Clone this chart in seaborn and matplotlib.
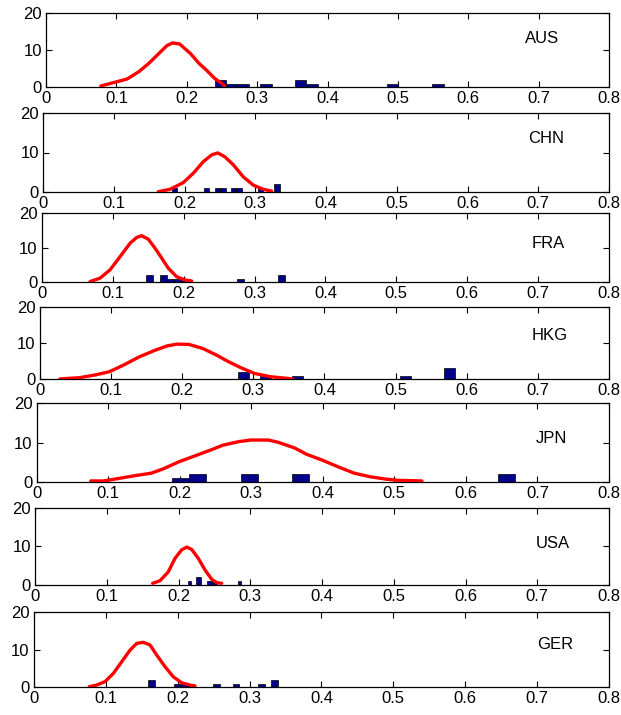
import numpy as np
import pandas as pd
import matplotlib
matplotlib.use("Agg")
import matplotlib.pyplot as plt
import seaborn as sns

# ---------------- data ----------------
countries = ["AUS", "CHN", "FRA", "HKG", "JPN", "USA", "GER"]

# histogram: first bin edge, bin width, counts in 20 bins
aus_bin_start, aus_bin_width = 0.2395, 0.0163
aus_counts = [2, 1, 1, 0, 1, 0, 0, 2, 1, 0, 0, 0, 0, 0, 0, 1, 0, 0, 0, 1]
chn_bin_start, chn_bin_width = 0.1819, 0.00762
chn_counts = [1, 0, 0, 0, 0, 0, 1, 0, 1, 1, 0, 1, 1, 0, 0, 0, 1, 0, 0, 2]
fra_bin_start, fra_bin_width = 0.1475, 0.0098
fra_counts = [2, 0, 2, 1, 1, 1, 0, 0, 0, 0, 0, 0, 0, 1, 0, 0, 0, 0, 0, 2]
hkg_bin_start, hkg_bin_width = 0.2786, 0.01522
hkg_counts = [2, 0, 1, 0, 0, 1, 0, 0, 0, 0, 0, 0, 0, 0, 0, 1, 0, 0, 0, 3]
jpn_bin_start, jpn_bin_width = 0.1892, 0.02395
jpn_counts = [1, 2, 0, 0, 2, 0, 0, 2, 0, 0, 0, 0, 0, 0, 0, 0, 0, 0, 0, 2]
usa_bin_start, usa_bin_width = 0.2137, 0.00365
usa_counts = [1, 0, 0, 2, 2, 0, 0, 1, 1, 1, 1, 0, 0, 0, 0, 0, 0, 0, 0, 1]
ger_bin_start, ger_bin_width = 0.1594, 0.0090
ger_counts = [2, 0, 0, 0, 1, 1, 1, 0, 0, 0, 1, 0, 0, 1, 0, 0, 0, 1, 0, 2]

# red density curves
aus_curve_x = [0.078, 0.092, 0.115, 0.132, 0.146, 0.160, 0.172, 0.180, 0.190, 0.2055, 0.217, 0.228, 0.2395, 0.251, 0.2537]
aus_curve_y = [0.35, 1.06, 2.2, 4.2, 6.4, 9.0, 11.2, 11.9, 11.6, 9.0, 6.5, 4.6, 2.4, 0.9, 0.35]
chn_curve_x = [0.163, 0.1795, 0.198, 0.2125, 0.2266, 0.2384, 0.247, 0.2572, 0.269, 0.283, 0.2972, 0.3114, 0.3232]
chn_curve_y = [0.15, 0.75, 2.4, 4.8, 7.7, 9.4, 9.9, 8.9, 6.9, 3.9, 1.8, 0.75, 0.3]
fra_curve_x = [0.068, 0.0821, 0.0962, 0.1103, 0.1244, 0.1338, 0.1409, 0.1502, 0.1597, 0.1691, 0.1784, 0.1903, 0.202, 0.2114]
fra_curve_y = [0.2, 1.2, 3.6, 7.4, 11.3, 13.0, 13.5, 12.5, 9.9, 7.0, 4.1, 1.6, 0.67, 0.38]
hkg_curve_x = [0.028, 0.056, 0.078, 0.098, 0.1175, 0.140, 0.162, 0.179, 0.193, 0.2098, 0.229, 0.249, 0.2657, 0.2825, 0.302, 0.3245, 0.347, 0.355]
hkg_curve_y = [0.1, 0.45, 1.2, 2.1, 3.9, 6.2, 8.0, 9.2, 9.7, 9.6, 8.5, 6.6, 4.8, 3.2, 1.6, 0.7, 0.27, 0.1]
jpn_curve_x = [0.0757, 0.0935, 0.1157, 0.138, 0.160, 0.177, 0.199, 0.2214, 0.2437, 0.2604, 0.2826, 0.2993, 0.3243, 0.3382,
               0.3605, 0.3772, 0.3994, 0.4217, 0.444, 0.4662, 0.4885, 0.5051, 0.5385]
jpn_curve_y = [0.34, 0.34, 1.0, 1.7, 2.3, 3.4, 5.2, 6.7, 8.2, 9.4, 10.3, 10.7, 10.7, 10.1,
               8.7, 7.1, 5.6, 3.9, 2.3, 1.4, 0.8, 0.5, 0.34]
usa_curve_x = [0.164, 0.1742, 0.1858, 0.1951, 0.2044, 0.2114, 0.2184, 0.2276, 0.2369, 0.2462, 0.2532, 0.2602]
usa_curve_y = [0.44, 1.1, 3.4, 6.9, 9.1, 9.8, 9.2, 6.9, 3.9, 1.5, 0.6, 0.44]
ger_curve_x = [0.0772, 0.0875, 0.099, 0.1106, 0.1222, 0.1338, 0.1431, 0.1523, 0.1616, 0.1709, 0.1825, 0.194, 0.2057, 0.2172, 0.2242]
ger_curve_y = [0.16, 0.6, 1.5, 3.7, 6.8, 9.9, 11.7, 12.0, 11.3, 8.6, 5.5, 2.8, 1.2, 0.6, 0.35]

x_ticks = [0, 0.1, 0.2, 0.3, 0.4, 0.5, 0.6, 0.7, 0.8]
x_tick_labels = ["0", "0.1", "0.2", "0.3", "0.4", "0.5", "0.6", "0.7", "0.8"]
y_ticks = [0, 10, 20]
y_tick_labels = ["0", "10", "20"]

hist_data = {
    "AUS": (aus_bin_start, aus_bin_width, aus_counts, aus_curve_x, aus_curve_y),
    "CHN": (chn_bin_start, chn_bin_width, chn_counts, chn_curve_x, chn_curve_y),
    "FRA": (fra_bin_start, fra_bin_width, fra_counts, fra_curve_x, fra_curve_y),
    "HKG": (hkg_bin_start, hkg_bin_width, hkg_counts, hkg_curve_x, hkg_curve_y),
    "JPN": (jpn_bin_start, jpn_bin_width, jpn_counts, jpn_curve_x, jpn_curve_y),
    "USA": (usa_bin_start, usa_bin_width, usa_counts, usa_curve_x, usa_curve_y),
    "GER": (ger_bin_start, ger_bin_width, ger_counts, ger_curve_x, ger_curve_y),
}

# ---------------- layout (pixels of a 621x715 image) ----------------
W, H = 621, 715
# left, right, top, bottom
panel_px = {
    "AUS": (46.0, 609, 12.7, 87.3),
    "CHN": (43.0, 609, 112.7, 192.3),
    "FRA": (41.8, 609, 213.3, 282.3),
    "HKG": (39.8, 609, 306.7, 379.3),
    "JPN": (36.6, 609, 403.3, 482.3),
    "USA": (35.0, 609, 507.7, 585.0),
    "GER": (33.8, 609, 612.3, 687.3),
}
label_pos = {
    "AUS": (0.705, 13.1), "CHN": (0.711, 13.6), "FRA": (0.715, 11.3),
    "HKG": (0.717, 12.2), "JPN": (0.719, 11.1), "USA": (0.722, 10.8),
    "GER": (0.725, 11.5),
}

sns.set_style("ticks")
plt.rcParams["font.family"] = ["Liberation Sans", "DejaVu Sans"]

fig = plt.figure(figsize=(W / 100, H / 100), dpi=100)
fig.patch.set_facecolor("white")

for c in countries:
    l, r, t, b = panel_px[c]
    ax = fig.add_axes([l / W, 1 - b / H, (r - l) / W, (b - t) / H])
    start, width, counts, cx, cy = hist_data[c]
    nb = len(counts)
    centers = [start + width * (i + 0.5) for i in range(nb)]
    df = pd.DataFrame({"value": centers, "count": counts})
    sns.histplot(data=df, x="value", weights="count", bins=nb,
                 binrange=(start, start + width * nb), ax=ax,
                 color="#00008C", edgecolor="black", linewidth=0.5, alpha=1.0,
                 zorder=2)
    sns.lineplot(x=cx, y=cy, ax=ax, color="#FF0000", linewidth=2.4,
                 sort=False, estimator=None, zorder=3)
    ax.set_xlim(0, 0.8)
    ax.set_ylim(0, 20)
    ax.set_xticks(x_ticks)
    ax.set_xticklabels(x_tick_labels)
    ax.set_yticks(y_ticks)
    ax.set_yticklabels(y_tick_labels)
    ax.set_xlabel("")
    ax.set_ylabel("")
    ax.tick_params(direction="in", top=True, right=True, length=4, width=0.8,
                   labelsize=12, pad=3, colors="black")
    for sp in ax.spines.values():
        sp.set_visible(True)
        sp.set_linewidth(0.9)
        sp.set_color("black")
    ax.set_facecolor("white")
    ax.text(label_pos[c][0], label_pos[c][1], c, ha="center", va="center",
            fontsize=12, color="black")

fig.savefig("out.png", dpi=100, facecolor="white")
